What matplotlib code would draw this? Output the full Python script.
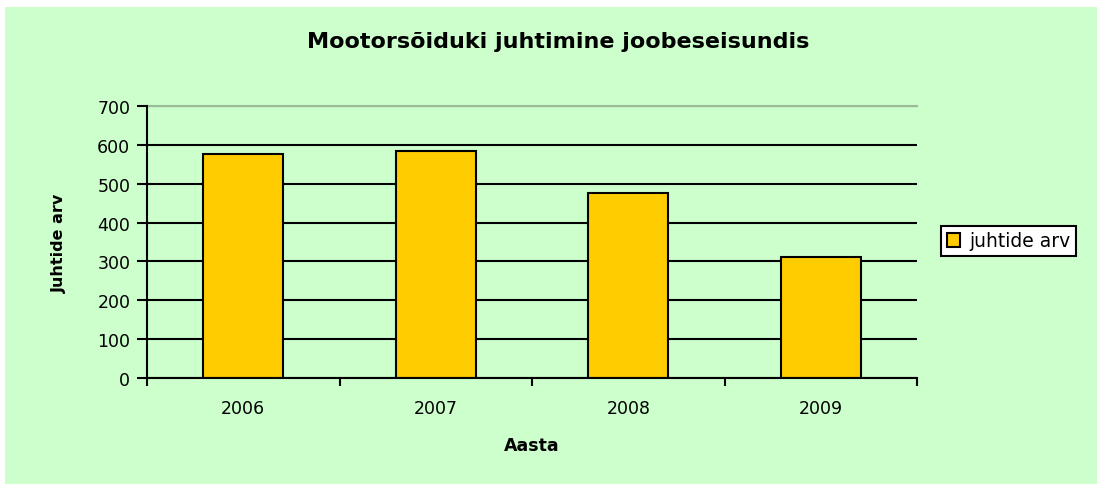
import matplotlib.pyplot as plt
from matplotlib.patches import Rectangle

plt.rcParams['font.family'] = ['DejaVu Sans']

# data
years = ['2006', '2007', '2008', '2009']
drivers = [576, 585, 475, 312]
y_ticks = [0, 100, 200, 300, 400, 500, 600, 700]

fig = plt.figure(figsize=(10.97, 4.85), dpi=100, facecolor='white')
# green chart area with thin white margin top/left
fig.patches.append(Rectangle((5 / 1097, 0), 1, 1 - 8 / 485, transform=fig.transFigure,
                             facecolor='#CCFFCC', edgecolor='none', zorder=-5))

ax = fig.add_axes([147 / 1097, 1 - 379 / 485, 770 / 1097, 272 / 485])
ax.set_facecolor('#CCFFCC')

x = range(len(years))
ax.bar(x, drivers, width=0.415, color='#FFCC00', edgecolor='black', linewidth=1.5,
       zorder=3, label='juhtide arv')

ax.set_xlim(-0.5, len(years) - 0.5)
ax.set_ylim(0, 700)
ax.set_yticks(y_ticks)
ax.tick_params(axis='y', labelsize=12.5, length=7, width=1.5, direction='out', pad=5)
ax.set_xticks([i - 0.5 for i in range(len(years) + 1)])
ax.set_xticklabels([])
ax.set_xticks(list(x), minor=True)
ax.set_xticklabels(years, minor=True)
ax.tick_params(axis='x', which='major', length=6, width=1.5, direction='out')
ax.tick_params(axis='x', which='minor', length=0, labelsize=12.5, pad=15)

ax.grid(axis='y', color='black', linewidth=1.5, zorder=1)
ax.set_axisbelow(True)
for s in ['top', 'right']:
    ax.spines[s].set_visible(False)
ax.spines['left'].set_linewidth(1.5)
ax.spines['bottom'].set_linewidth(1.5)
ax.spines['bottom'].set_zorder(4)
ax.axhline(700, color='#99BB99', linewidth=1.5, zorder=2, clip_on=False)

ax.set_ylabel('Juhtide arv', fontsize=11.5, fontweight='bold', labelpad=22)
ax.set_xlabel('Aasta', fontsize=12.5, fontweight='bold', labelpad=14)
fig.text(558 / 1097, 1 - 42 / 485, 'Mootorsõiduki juhtimine joobeseisundis',
         ha='center', va='center', fontsize=16, fontweight='bold')

leg = ax.legend(loc='center left', bbox_to_anchor=(941 / 1097, 1 - 242 / 485),
                bbox_transform=fig.transFigure, fontsize=13.5, frameon=True,
                fancybox=False, edgecolor='black', framealpha=1, handlelength=0.7,
                handleheight=0.7, handletextpad=0.5, borderpad=0.3, borderaxespad=0)
leg.get_frame().set_linewidth(1.5)

fig.savefig('out.png', dpi=100, facecolor=fig.get_facecolor())
